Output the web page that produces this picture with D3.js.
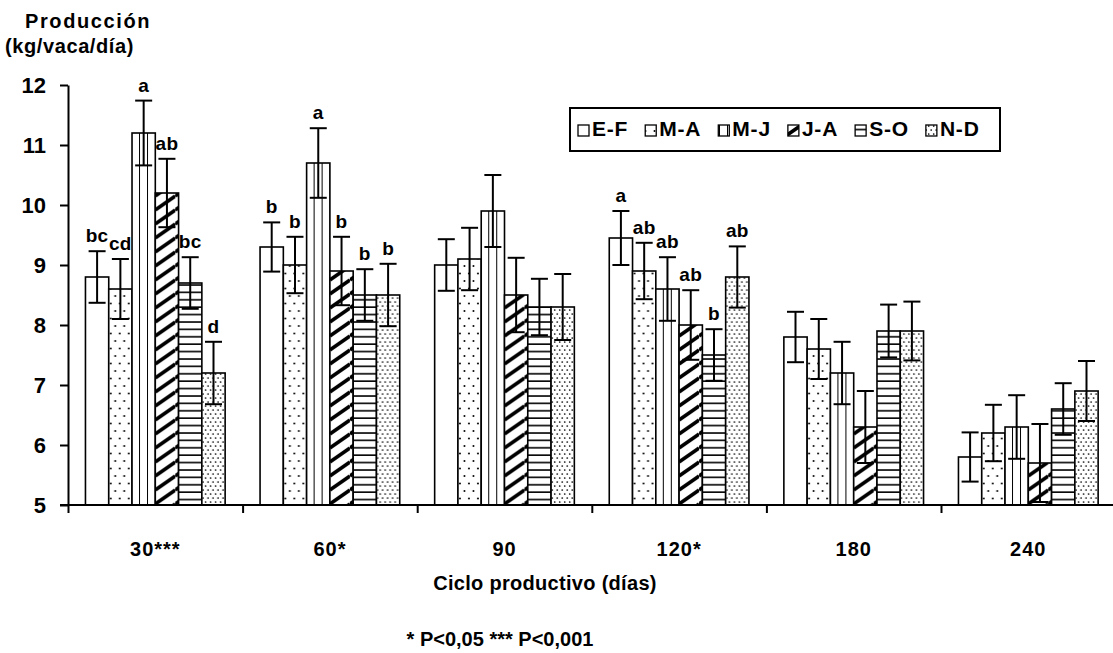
<!DOCTYPE html>
<html>
<head>
<meta charset="utf-8">
<script src="https://cdn.jsdelivr.net/npm/d3@7"></script>
<style>
  body { margin: 0; background: #fff; }
  svg text { font-family: "Liberation Sans", Arial, sans-serif; font-weight: bold; fill: #000; }
</style>
</head>
<body>
<div id="chart"></div>
<script>
// categorías (ciclo productivo) y series (bimestre de parto)
const categories = ["30***", "60*", "90", "120*", "180", "240"];
const seriesNames = ["E-F", "M-A", "M-J", "J-A", "S-O", "N-D"];

// medias por serie
const meanEF = [8.8, 9.3, 9.0, 9.45, 7.8, 5.8];
const meanMA = [8.6, 9.0, 9.1, 8.9, 7.6, 6.2];
const meanMJ = [11.2, 10.7, 9.9, 8.6, 7.2, 6.3];
const meanJA = [10.2, 8.9, 8.5, 8.0, 6.3, 5.7];
const meanSO = [8.7, 8.5, 8.3, 7.5, 7.9, 6.6];
const meanND = [7.2, 8.5, 8.3, 8.8, 7.9, 6.9];

// error estándar por serie
const errEF = [0.43, 0.41, 0.43, 0.45, 0.42, 0.41];
const errMA = [0.5, 0.47, 0.52, 0.47, 0.5, 0.47];
const errMJ = [0.54, 0.58, 0.6, 0.53, 0.52, 0.53];
const errJA = [0.57, 0.57, 0.62, 0.58, 0.6, 0.65];
const errSO = [0.43, 0.43, 0.47, 0.43, 0.44, 0.43];
const errND = [0.52, 0.52, 0.55, 0.51, 0.49, 0.5];

// letras de significancia
const letEF = ["bc", "b", "", "a", "", ""];
const letMA = ["cd", "b", "", "ab", "", ""];
const letMJ = ["a", "a", "", "ab", "", ""];
const letJA = ["ab", "b", "", "ab", "", ""];
const letSO = ["bc", "b", "", "b", "", ""];
const letND = ["d", "b", "", "ab", "", ""];

const yTicks = [5, 6, 7, 8, 9, 10, 11, 12];

const means = [meanEF, meanMA, meanMJ, meanJA, meanSO, meanND];
const errs = [errEF, errMA, errMJ, errJA, errSO, errND];
const lets = [letEF, letMA, letMJ, letJA, letSO, letND];
const patternIds = ["pEF", "pMA", "pMJ", "pJA", "pSO", "pND"];

const width = 1113, height = 653;
const svg = d3.select("#chart").append("svg")
  .attr("width", width).attr("height", height);

// patrones de relleno
const defs = svg.append("defs");
function pattern(id, w, h) {
  return defs.append("pattern").attr("id", id)
    .attr("patternUnits", "userSpaceOnUse")
    .attr("width", w).attr("height", h);
}
pattern("pEF", 10, 10).append("rect").attr("width", 10).attr("height", 10).attr("fill", "#fff");

const pMA = pattern("pMA", 9, 15);
pMA.append("rect").attr("width", 9).attr("height", 15).attr("fill", "#fff");
pMA.append("circle").attr("cx", 2).attr("cy", 3.5).attr("r", 1).attr("fill", "#000");
pMA.append("circle").attr("cx", 6.5).attr("cy", 11).attr("r", 1).attr("fill", "#000");

const pMJ = pattern("pMJ", 8, 10);
pMJ.append("rect").attr("width", 8).attr("height", 10).attr("fill", "#fff");
pMJ.append("rect").attr("x", 7).attr("width", 2).attr("height", 10).attr("fill", "#000");

const pJA = pattern("pJA", 20, 14);
pJA.append("rect").attr("width", 20).attr("height", 14).attr("fill", "#fff");
[-14, 0, 14].forEach(o => {
  pJA.append("line").attr("x1", 0).attr("y1", 14 + o).attr("x2", 20).attr("y2", o)
    .attr("stroke", "#000").attr("stroke-width", 3.6);
});

const pSO = pattern("pSO", 10, 7.4);
pSO.append("rect").attr("width", 10).attr("height", 7.4).attr("fill", "#fff");
pSO.append("rect").attr("y", 3).attr("width", 10).attr("height", 1.6).attr("fill", "#000");

const pND = pattern("pND", 5, 8);
pND.append("rect").attr("width", 5).attr("height", 8).attr("fill", "#fff");
pND.append("circle").attr("cx", 1.2).attr("cy", 2).attr("r", 0.85).attr("fill", "#000");
pND.append("circle").attr("cx", 3.7).attr("cy", 6).attr("r", 0.85).attr("fill", "#000");

// escalas
const x0 = 68, band = 174.6;
const x = d3.scaleBand().domain(categories).range([x0, x0 + band * categories.length]).paddingInner(0);
const xs = d3.scaleBand().domain(seriesNames).range([0, x.bandwidth()]).paddingInner(0).paddingOuter(0.75);
const y = d3.scaleLinear().domain([5, 12]).range([505, 85]);

// barras
const data = [];
categories.forEach((c, ci) => {
  seriesNames.forEach((s, si) => {
    data.push({ cat: c, ser: s, si: si, v: means[si][ci], e: errs[si][ci], l: lets[si][ci] });
  });
});

const bars = svg.append("g").selectAll("g")
  .data(data).enter().append("g")
  .attr("transform", d => `translate(${x(d.cat) + xs(d.ser)},0)`);

bars.append("rect")
  .attr("x", 0)
  .attr("y", d => y(d.v))
  .attr("width", xs.bandwidth())
  .attr("height", d => y(5) - y(d.v))
  .attr("fill", d => `url(#${patternIds[d.si]})`)
  .attr("stroke", "#000")
  .attr("stroke-width", 1.6);

// barras de error
const cap = 8.5;
const cx = xs.bandwidth() / 2;
bars.append("line")
  .attr("x1", cx).attr("x2", cx)
  .attr("y1", d => y(d.v + d.e)).attr("y2", d => y(d.v - d.e))
  .attr("stroke", "#000").attr("stroke-width", 2);
bars.append("line")
  .attr("x1", cx - cap).attr("x2", cx + cap)
  .attr("y1", d => y(d.v + d.e)).attr("y2", d => y(d.v + d.e))
  .attr("stroke", "#000").attr("stroke-width", 2);
bars.append("line")
  .attr("x1", cx - cap).attr("x2", cx + cap)
  .attr("y1", d => y(d.v - d.e)).attr("y2", d => y(d.v - d.e))
  .attr("stroke", "#000").attr("stroke-width", 2);

bars.append("text")
  .attr("x", cx)
  .attr("y", d => y(d.v + d.e) - 9)
  .attr("text-anchor", "middle")
  .style("font-size", "19px")
  .style("letter-spacing", "0.3px")
  .text(d => d.l);

// eje Y
const yAxis = svg.append("g")
  .attr("transform", `translate(${x0},0)`)
  .call(d3.axisLeft(y).tickValues(yTicks).tickFormat(d3.format("d")).tickSize(8).tickSizeOuter(0).tickPadding(14));
yAxis.selectAll("text").style("font-size", "22px").attr("dy", "0.36em");

// eje X
svg.append("line")
  .attr("x1", 60).attr("x2", width)
  .attr("y1", y(5)).attr("y2", y(5))
  .attr("stroke", "#000").attr("stroke-width", 2);

const xb = d3.scaleLinear().domain([0, categories.length]).range([x0, x0 + band * categories.length]);
const xTickAxis = svg.append("g")
  .attr("transform", `translate(0,${y(5)})`)
  .call(d3.axisBottom(xb).ticks(6).tickFormat("").tickSize(8).tickSizeOuter(0));
xTickAxis.select(".domain").remove();

const xAxis = svg.append("g")
  .attr("transform", `translate(0,${y(5)})`)
  .call(d3.axisBottom(x).tickSize(0).tickPadding(37));
xAxis.select(".domain").remove();
xAxis.selectAll("text").style("font-size", "20px").style("letter-spacing", "1px");

svg.selectAll(".domain, .tick line").attr("stroke", "#000").attr("stroke-width", 2);

// títulos
svg.append("text").attr("x", 25).attr("y", 28)
  .style("font-size", "20px").style("letter-spacing", "1.6px")
  .text("Producción");
svg.append("text").attr("x", 5).attr("y", 53)
  .style("font-size", "20px").style("letter-spacing", "0.6px")
  .text("(kg/vaca/día)");
svg.append("text").attr("x", 545).attr("y", 590)
  .attr("text-anchor", "middle")
  .style("font-size", "20px").style("letter-spacing", "0.3px")
  .text("Ciclo productivo (días)");
svg.append("text").attr("x", 500).attr("y", 646)
  .attr("text-anchor", "middle")
  .style("font-size", "20px")
  .text("* P<0,05 *** P<0,001");

// leyenda
const legend = svg.append("g");
legend.append("rect")
  .attr("x", 570).attr("y", 108).attr("width", 430).attr("height", 43)
  .attr("fill", "#fff").attr("stroke", "#000").attr("stroke-width", 2);

let lx = 578;
seriesNames.forEach((s, i) => {
  legend.append("rect")
    .attr("x", lx).attr("y", 125).attr("width", 11).attr("height", 11)
    .attr("fill", `url(#${patternIds[i]})`)
    .attr("stroke", "#000").attr("stroke-width", 1.3);
  const t = legend.append("text")
    .attr("x", lx + 14).attr("y", 136)
    .style("font-size", "21px").style("letter-spacing", "0.8px")
    .text(s);
  lx += 14 + t.node().getComputedTextLength() + 17;
});
</script>
</body>
</html>
